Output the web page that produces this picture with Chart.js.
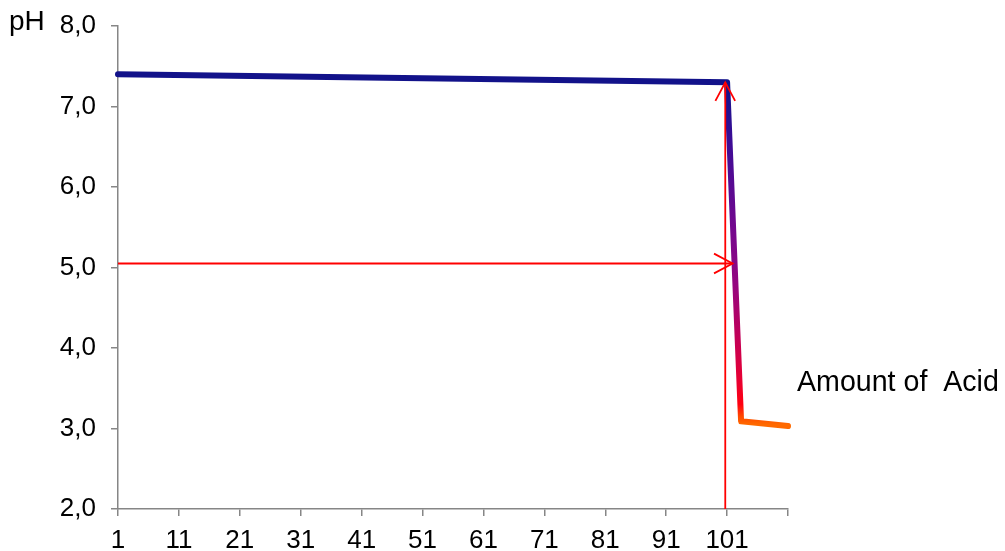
<!DOCTYPE html>
<html>
<head>
<meta charset="utf-8">
<script src="https://cdn.jsdelivr.net/npm/chart.js@4/dist/chart.umd.min.js"></script>
<style>
  html, body { margin: 0; padding: 0; background: #ffffff; }
  #wrap { width: 1005px; height: 551px; position: relative; }
</style>
</head>
<body>
<div id="wrap"><canvas id="c"></canvas></div>
<script>
// ---- data ----
const amountOfAcid = [1, 101, 103.3, 111];
const phValues     = [7.4, 7.3, 3.09, 3.03];
const xTickValues  = [1, 11, 21, 31, 41, 51, 61, 71, 81, 91, 101, 111];
const xTickLabels  = ['1', '11', '21', '31', '41', '51', '61', '71', '81', '91', '101', ''];
const yTickValues  = [2, 3, 4, 5, 6, 7, 8];
const arrowUpX     = [100.7, 100.7];
const arrowUpY     = [2.0, 7.3];
const arrowRightX  = [1, 101.9];
const arrowRightY  = [5.05, 5.05];
const yTitle = 'pH';
const xTitle = 'Amount of  Acid';

// ---- styles ----
const FONT = '"Liberation Sans", Arial, sans-serif';
const AXIS = '#868686';
const RED = '#ff0000';
const gradStops = [
  [7.25, '#12128a'],
  [6.6,  '#3a0c96'],
  [5.5,  '#73088e'],
  [4.8,  '#940680'],
  [4.2,  '#bd005c'],
  [3.6,  '#e80032'],
  [3.3,  '#ff0010'],
  [3.15, '#ff4a00'],
  [3.05, '#ff6a00']
];

function lineGradient(context) {
  const chart = context.chart;
  const area = chart.chartArea;
  if (!area) return gradStops[0][1];
  const y = chart.scales.y;
  const top = y.getPixelForValue(7.5), bot = y.getPixelForValue(3.0);
  const g = chart.ctx.createLinearGradient(0, top, 0, bot);
  gradStops.forEach(([v, col]) => {
    const t = (y.getPixelForValue(v) - top) / (bot - top);
    g.addColorStop(Math.min(1, Math.max(0, t)), col);
  });
  return g;
}

const toPts = (xs, ys) => xs.map((x, i) => ({ x: x, y: ys[i] }));

const decorations = {
  id: 'decorations',
  afterDatasetsDraw(chart) {
    const c = chart.ctx, xs = chart.scales.x, ys = chart.scales.y;
    const head = (tx, ty, ang) => {
      const L = 21, a = 28 * Math.PI / 180;
      c.beginPath();
      c.moveTo(tx - L * Math.cos(ang - a), ty - L * Math.sin(ang - a));
      c.lineTo(tx, ty);
      c.lineTo(tx - L * Math.cos(ang + a), ty - L * Math.sin(ang + a));
      c.stroke();
    };
    c.save();
    c.strokeStyle = RED;
    c.lineWidth = 1.8;
    c.lineJoin = 'miter';
    head(xs.getPixelForValue(arrowUpX[1]), ys.getPixelForValue(arrowUpY[1]), -Math.PI / 2);
    head(xs.getPixelForValue(arrowRightX[1]), ys.getPixelForValue(arrowRightY[1]), 0);
    c.restore();
  },
  afterDraw(chart) {
    const c = chart.ctx;
    c.save();
    c.fillStyle = '#000000';
    c.font = '28px ' + FONT;
    c.textBaseline = 'middle';
    c.textAlign = 'left';
    c.fillText(yTitle, 9, 22);
    c.font = '28.6px ' + FONT;
    c.fillText(xTitle, 797, 383);
    c.restore();
  }
};

new Chart(document.getElementById('c'), {
  type: 'line',
  data: {
    datasets: [
      {
        data: toPts(arrowUpX, arrowUpY),
        borderColor: RED, borderWidth: 1.8, pointRadius: 0, tension: 0, clip: false
      },
      {
        data: toPts(arrowRightX, arrowRightY),
        borderColor: RED, borderWidth: 1.8, pointRadius: 0, tension: 0, clip: false
      },
      {
        data: toPts(amountOfAcid, phValues),
        borderColor: lineGradient,
        borderWidth: 6,
        borderJoinStyle: 'round',
        borderCapStyle: 'round',
        pointRadius: 0,
        tension: 0,
        clip: false
      }
    ]
  },
  options: {
    responsive: true,
    maintainAspectRatio: false,
    animation: false,
    events: [],
    layout: { padding: { top: 26, right: 217, left: 0, bottom: 0 } },
    plugins: { legend: { display: false }, tooltip: { enabled: false } },
    scales: {
      x: {
        type: 'linear',
        min: 1, max: 111,
        afterBuildTicks: s => { s.ticks = xTickValues.map(v => ({ value: v })); },
        afterFit: s => { s.height = 42; s.paddingLeft = 0; s.paddingRight = 0; },
        ticks: {
          autoSkip: false,
          maxRotation: 0,
          padding: 9,
          color: '#000000',
          font: { family: FONT, size: 26 },
          callback: (v) => xTickLabels[xTickValues.indexOf(v)]
        },
        grid: { drawOnChartArea: false, drawTicks: true, tickLength: 7, color: AXIS, lineWidth: 1.5 },
        border: { color: AXIS, width: 1.5 }
      },
      y: {
        min: 2, max: 8,
        afterBuildTicks: s => { s.ticks = yTickValues.map(v => ({ value: v })); },
        afterFit: s => { s.width = 118; s.paddingTop = 0; s.paddingBottom = 0; },
        ticks: {
          padding: 15,
          color: '#000000',
          font: { family: FONT, size: 26 },
          callback: v => Number(v).toFixed(1).replace('.', ',')
        },
        grid: { drawOnChartArea: false, drawTicks: true, tickLength: 7, color: AXIS, lineWidth: 1.5 },
        border: { color: AXIS, width: 1.5 }
      }
    }
  },
  plugins: [decorations]
});
</script>
</body>
</html>
